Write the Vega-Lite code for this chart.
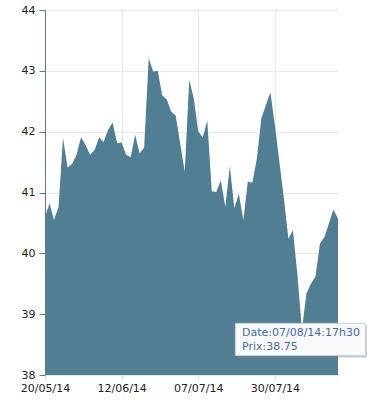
{
  "$schema": "https://vega.github.io/schema/vega-lite/v6.json",
  "autosize": {"type": "none"},
  "width": 293,
  "height": 365,
  "padding": {"left": 45, "top": 10, "right": 47, "bottom": 27},
  "background": "#ffffff",
  "config": {
    "view": {"stroke": null},
    "font": "DejaVu Sans",
    "axis": {"labelFont": "DejaVu Sans", "labelFontSize": 11, "labelColor": "#222222", "gridColor": "#e8e8e8", "gridWidth": 1, "title": null}
  },
  "data": {"values": [
    {"date": "20/05/14", "prix": 40.60},
    {"date": "21/05/14", "prix": 40.82},
    {"date": "22/05/14", "prix": 40.55},
    {"date": "23/05/14", "prix": 40.76},
    {"date": "26/05/14", "prix": 41.90},
    {"date": "27/05/14", "prix": 41.41},
    {"date": "28/05/14", "prix": 41.47},
    {"date": "29/05/14", "prix": 41.62},
    {"date": "30/05/14", "prix": 41.91},
    {"date": "02/06/14", "prix": 41.78},
    {"date": "03/06/14", "prix": 41.62},
    {"date": "04/06/14", "prix": 41.70},
    {"date": "05/06/14", "prix": 41.91},
    {"date": "06/06/14", "prix": 41.83},
    {"date": "09/06/14", "prix": 42.03},
    {"date": "10/06/14", "prix": 42.15},
    {"date": "11/06/14", "prix": 41.81},
    {"date": "12/06/14", "prix": 41.82},
    {"date": "13/06/14", "prix": 41.62},
    {"date": "16/06/14", "prix": 41.58},
    {"date": "17/06/14", "prix": 41.95},
    {"date": "18/06/14", "prix": 41.64},
    {"date": "19/06/14", "prix": 41.74},
    {"date": "20/06/14", "prix": 43.21},
    {"date": "23/06/14", "prix": 42.99},
    {"date": "24/06/14", "prix": 43.00},
    {"date": "25/06/14", "prix": 42.60},
    {"date": "26/06/14", "prix": 42.53},
    {"date": "27/06/14", "prix": 42.33},
    {"date": "30/06/14", "prix": 42.26},
    {"date": "01/07/14", "prix": 41.80},
    {"date": "02/07/14", "prix": 41.34},
    {"date": "03/07/14", "prix": 42.85},
    {"date": "04/07/14", "prix": 42.55},
    {"date": "07/07/14", "prix": 42.00},
    {"date": "08/07/14", "prix": 41.91},
    {"date": "09/07/14", "prix": 42.18},
    {"date": "10/07/14", "prix": 41.02},
    {"date": "11/07/14", "prix": 41.01},
    {"date": "14/07/14", "prix": 41.20},
    {"date": "15/07/14", "prix": 40.76},
    {"date": "16/07/14", "prix": 41.43},
    {"date": "17/07/14", "prix": 40.74},
    {"date": "18/07/14", "prix": 40.98},
    {"date": "21/07/14", "prix": 40.55},
    {"date": "22/07/14", "prix": 41.18},
    {"date": "23/07/14", "prix": 41.16},
    {"date": "24/07/14", "prix": 41.56},
    {"date": "25/07/14", "prix": 42.22},
    {"date": "28/07/14", "prix": 42.44},
    {"date": "29/07/14", "prix": 42.65},
    {"date": "30/07/14", "prix": 42.10},
    {"date": "31/07/14", "prix": 41.50},
    {"date": "01/08/14", "prix": 40.90},
    {"date": "04/08/14", "prix": 40.24},
    {"date": "05/08/14", "prix": 40.38},
    {"date": "06/08/14", "prix": 39.65},
    {"date": "07/08/14", "prix": 38.75},
    {"date": "08/08/14", "prix": 39.34},
    {"date": "11/08/14", "prix": 39.50},
    {"date": "12/08/14", "prix": 39.62},
    {"date": "13/08/14", "prix": 40.16},
    {"date": "14/08/14", "prix": 40.27},
    {"date": "15/08/14", "prix": 40.50},
    {"date": "18/08/14", "prix": 40.72},
    {"date": "19/08/14", "prix": 40.57}
  ]},
  "encoding": {
    "x": {
      "field": "date", "type": "ordinal", "sort": null,
      "scale": {"type": "point", "padding": 0},
      "axis": {
        "values": ["20/05/14", "12/06/14", "07/07/14", "30/07/14"],
        "labelAngle": 0, "grid": true, "domain": false,
        "tickColor": "#e0e0e0", "tickSize": 4, "labelPadding": 3
      }
    },
    "y": {
      "field": "prix", "type": "quantitative",
      "scale": {"domain": [38, 44], "zero": false, "nice": false},
      "axis": {
        "values": [38, 39, 40, 41, 42, 43, 44], "grid": true,
        "domainColor": "#5a7a9c", "tickColor": "#5a7a9c", "tickSize": 6, "labelPadding": 4
      }
    }
  },
  "layer": [
    {
      "mark": {"type": "area", "color": "#527e93", "opacity": 1, "interpolate": "linear"},
      "encoding": {"y2": {"datum": 38}}
    },
    {
      "transform": [{"filter": "datum.date == '07/08/14'"}],
      "mark": {"type": "rect", "width": 130, "height": 32, "xOffset": 0, "yOffset": 12, "fill": "#888888", "opacity": 0.45}
    },
    {
      "transform": [{"filter": "datum.date == '07/08/14'"}],
      "mark": {"type": "rect", "width": 130, "height": 32, "xOffset": -1.5, "yOffset": 10, "fill": "#f7f9fb", "stroke": "#c9d2dd", "strokeWidth": 1}
    },
    {
      "transform": [{"filter": "datum.date == '07/08/14'"}],
      "mark": {"type": "text", "text": "Date:07/08/14:17h30", "align": "left", "baseline": "middle", "dx": -60, "dy": 4, "fontSize": 11, "font": "DejaVu Sans", "color": "#4a6c9b"}
    },
    {
      "transform": [{"filter": "datum.date == '07/08/14'"}],
      "mark": {"type": "text", "text": "Prix:38.75", "align": "left", "baseline": "middle", "dx": -60, "dy": 17.5, "fontSize": 11, "font": "DejaVu Sans", "color": "#4a6c9b"}
    }
  ]
}
